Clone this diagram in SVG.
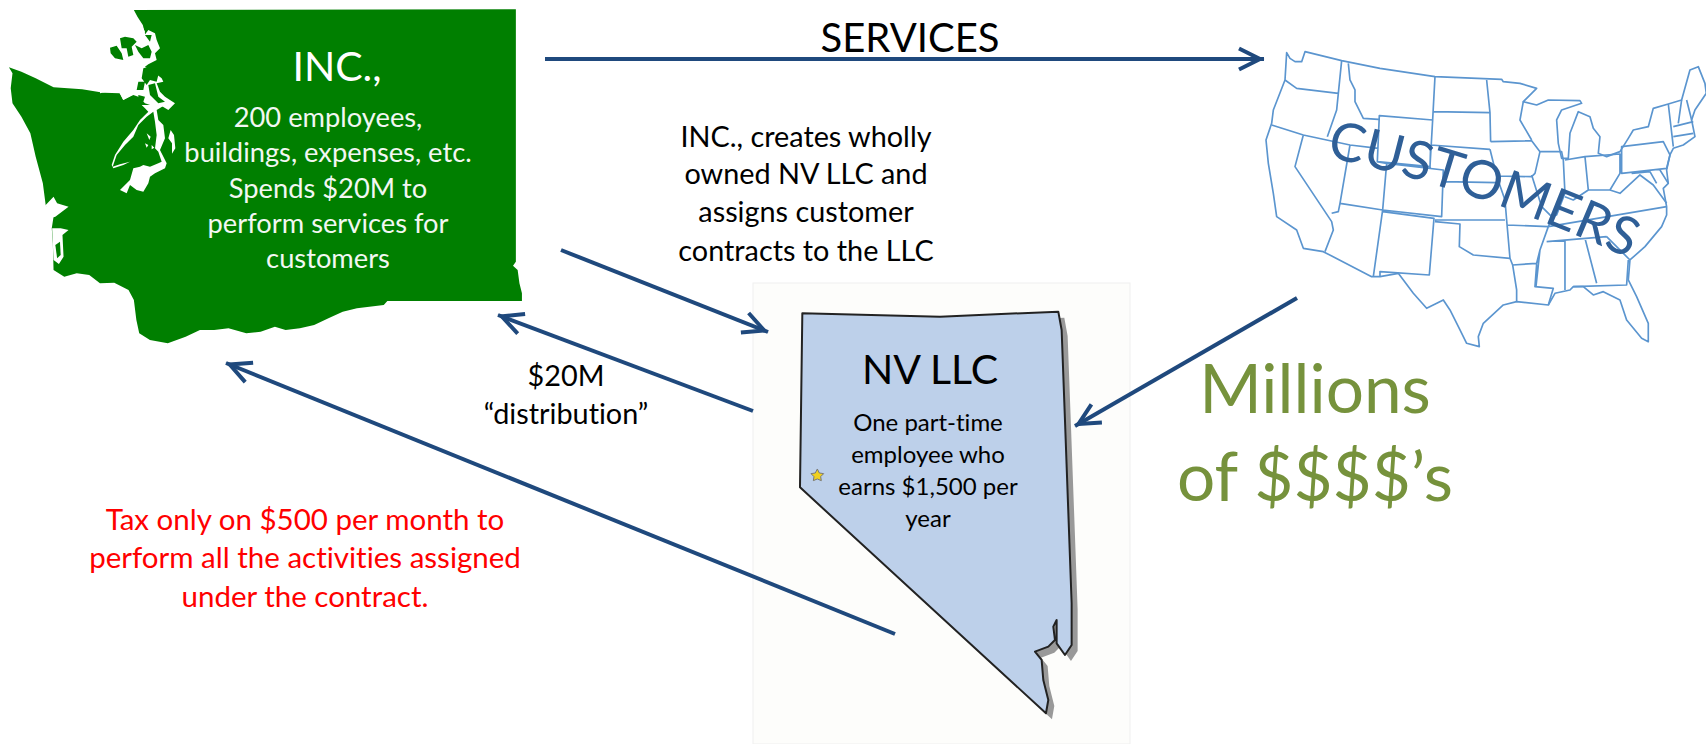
<svg xmlns="http://www.w3.org/2000/svg" width="1706" height="744" viewBox="0 0 1706 744">
<style>
text{font-family:Lato,"Liberation Sans",sans-serif;text-anchor:middle;font-variant-ligatures:none}
.k{fill:#000}.w{fill:#f2f7f2}.l{font-size:28.8px}.g{fill:#76923c;font-size:67.5px}
.us{fill:none;stroke:#5b95cf;stroke-width:5;stroke-linejoin:round}
.a{fill:none;stroke:#1f497d;stroke-width:4;marker-end:url(#ah)}
.wa{fill:#007f00}.sea{fill:#fff}
</style>
<defs>
<marker id="ah" markerUnits="userSpaceOnUse" markerWidth="30" markerHeight="30" viewBox="0 0 30 30" refX="29" refY="15" orient="auto"><path d="M4,4.5L25,15L4,25.5" fill="none" stroke="#1f497d" stroke-width="4"/></marker>
<path id="cb" d="M1326,157 Q1480,190 1628,258 L1700,300"/>
</defs>
<rect width="1706" height="744" fill="#fff"/>
<g id="washington">
<g transform="scale(.357,.3333)">
<path class="wa" d="M375,30L1445,28L1445,785L1437,797L1450,810L1455,850L1462,880L1462,903L1085,903L1075,915L1000,925L960,935L920,955L880,975L840,985L800,990L770,980L730,995L690,1000L640,985L600,990L560,990L520,1010L470,1030L420,1020L390,1000L382,960L375,900L360,870L320,848L280,850L250,825L215,820L180,830L150,810L148,730L145,685L150,650L128,615L120,550L100,470L85,400L60,350L35,310L30,265L35,220L25,202L60,215L100,235L150,262L230,268L290,278L335,280L345,300L370,285L420,160L400,75L385,50Z"/>
<path class="sea" d="M128,615L150,590L160,610L192,620L155,650L140,655ZM146,685L170,685L192,690L175,705L178,770L165,792L150,780L148,730Z"/>
<path class="wa" d="M155,735L168,725L170,765L160,775Z"/>
</g>
<g transform="translate(100,25) scale(.3333)">
<path class="sea" d="M0,0H125L135,20L130,35L145,15L165,25L170,45L180,70L165,85L170,105L145,118L135,125L160,140L185,160L190,170L170,175L180,200L195,215L225,235L205,255L180,240L165,255L150,240L135,235L115,215L100,210L70,225L60,205L40,195L0,205Z"/>
<path class="wa" d="M30,68L50,62L65,85L70,105L45,100L32,85ZM60,40L75,35L100,40L110,50L95,65L100,90L85,95L80,70L65,70ZM105,60L125,70L145,60L155,80L150,100L130,100L115,80ZM135,30L155,30L150,50ZM130,130L145,125L175,150L170,170L150,165L140,180L125,160ZM115,170L135,170L130,195L110,195ZM145,180L165,175L175,215L195,230L175,235L150,210ZM115,210L135,215L130,230L115,225Z"/>
</g>
<g transform="translate(100,105) scale(.3333)">
<path class="sea" d="M125,0L195,0L170,15L175,45L190,60L195,100L180,135L200,175L195,190L165,205L150,215L145,235L130,260L110,255L90,240L80,265L60,255L75,240L90,225L100,190L120,185L130,180L150,185L175,175L185,170L175,140L165,130L170,90L165,50L160,20L140,35L115,60L100,95L75,120L50,150L38,185L60,178L90,170L70,180L40,190L35,180L45,150L70,110L100,75L120,45L145,20L135,10ZM212,75L222,90L226,130L216,146L216,115L205,100ZM140,85L152,95L148,105ZM135,115L145,120L140,128ZM155,120L163,128L155,133Z"/>
</g>
<text x="337" y="81" font-size="41" fill="#fff">INC.,</text>
<g class="w" font-size="27.3"><text x="328" y="127">200 employees,</text><text x="328" y="162">buildings, expenses, etc.</text><text x="328" y="198">Spends $20M to</text><text x="328" y="233">perform services for</text><text x="328" y="268">customers</text></g>
</g>
<g id="customers">
<g transform="translate(1240,30) scale(.3333)" class="us">
<path d="M140,68L150,85L165,95L185,95L195,65L305,92L420,115L585,140L785,148L790,155L840,160L890,175L850,215L890,225L925,210L1020,212L1025,220L965,240L950,270L955,340L965,385L985,385L990,310L1015,245L1050,260L1060,295L1080,320L1075,370L1100,380L1140,365L1165,325L1180,300L1225,290L1240,235L1285,222L1325,210L1350,120L1375,110L1395,160L1399,190L1365,240L1355,270L1365,320L1330,345L1300,355L1290,375L1280,420L1285,460L1270,475L1280,530L1280,555L1265,590L1215,650L1170,690L1165,750L1190,800L1225,880L1225,935L1205,925L1160,870L1140,810L1090,785L1060,795L1030,770L1000,770L990,780L945,790L925,825L830,815L790,825L730,880L715,920L718,950L680,940L660,900L630,840L610,810L560,835L520,790L475,730L420,740L395,740L250,665L190,655L170,600L110,560L100,490L85,400L78,330L95,280L100,240L135,150Z"/>
<path d="M135,150L170,175L295,190M305,92L295,190L290,240L262,320M95,285L190,315L330,345M325,100L330,150L345,180L345,215L370,265L415,268M418,257L578,270L570,410L412,395ZM190,315L165,410L275,575L280,600L255,665M330,345L300,520L295,545L275,550M330,345L415,355M410,395L440,400L428,540L300,520M440,400L610,420L605,560L428,540L400,740M428,545L582,565L568,735L420,725L420,740M585,140L578,270M580,245L750,248M740,150L750,248L752,335M572,345L750,358M572,345L570,415M610,420L610,455L770,458M585,570L795,570M585,575L660,582L658,650L700,675L810,685L800,570M810,685L818,705L830,780L830,815M800,585L925,590L900,660L890,700L818,705M890,703L885,770L940,775L925,825M752,335L875,332L900,365L885,430L875,440L770,438M850,215L840,270L875,330M875,435L905,530L935,560L925,590M750,358L770,438L795,510L800,570M900,365L965,365L970,390L975,490L950,555L935,560M975,390L1035,380L1045,480L1000,510L975,500M1035,380L1140,372L1140,430L1110,480L1045,480M925,590L1280,530M920,635L1100,620M975,630L975,780M1035,625L1070,760M900,660L888,770M1000,770L1160,765L1165,690M1100,620L1170,690M1110,480L1140,490L1200,435L1240,465L1280,520M1145,350L1270,335L1290,375L1280,415L1145,430ZM1285,222L1300,350M1300,290L1360,275M1300,320L1360,310M1325,210L1315,280M1340,210L1355,270M1175,430L1230,425L1250,460M1260,420L1285,460"/>
</g>
<text font-size="53.5" fill="#2f5f97" style="text-anchor:start"><textPath href="#cb">CUSTOMERS</textPath></text>
</g>
<g id="nevada">
<rect x="753" y="283" width="377" height="461" fill="#fdfdfb" stroke="#efefef" stroke-width="1"/>
<g transform="translate(740,270) scale(.3333)">
<path fill="#999" d="M187,130L600,140L955,125L965,180L975,450L995,1000L995,1125L975,1155L950,1120L950,1050L940,1070L945,1110L925,1130L885,1145L905,1170L910,1230L925,1290L918,1330L180,652Z" transform="translate(18,18)"/>
<path fill="#bdd0ea" stroke="#222" stroke-width="6" stroke-linejoin="round" d="M187,130L600,140L955,125L965,180L975,450L995,1000L995,1125L975,1155L950,1120L950,1050L940,1070L945,1110L925,1130L885,1145L905,1170L910,1230L925,1290L918,1330L180,652Z"/>
<path d="M232,597L238,609L251,611L242,620L244,632L232,627L220,632L222,620L213,611L226,609Z" fill="#f0d020" stroke="#777" stroke-width="3"/>
</g>
<text x="930" y="384" font-size="41" class="k">NV LLC</text>
<g class="k" font-size="24"><text x="928" y="431">One part-time</text><text x="928" y="463">employee who</text><text x="928" y="495">earns $1,500 per</text><text x="928" y="527">year</text></g>
</g>
<g id="connectors">
<path class="a" d="M545,59H1264"/>
<path class="a" d="M561,250L768,332"/>
<path class="a" d="M753,411L498,315"/>
<path class="a" d="M895,634L226,363"/>
<path class="a" d="M1297,298L1075,426"/>
</g>
<g id="labels">
<text x="910" y="52" font-size="40" class="k">SERVICES</text>
<g class="k l"><text x="806" y="147">INC., creates wholly</text><text x="806" y="184">owned NV LLC and</text><text x="806" y="222">assigns customer</text><text x="806" y="261">contracts to the LLC</text></g>
<g class="k l"><text x="566" y="386">$20M</text><text x="566" y="424">“distribution”</text></g>
<g fill="#f00" font-size="29.5"><text x="305" y="530">Tax only on $500 per month to</text><text x="305" y="568">perform all the activities assigned</text><text x="305" y="607">under the contract.</text></g>
<g class="g"><text x="1315" y="413">Millions</text><text x="1315" y="501">of $$$$’s</text></g>
</g>
</svg>
